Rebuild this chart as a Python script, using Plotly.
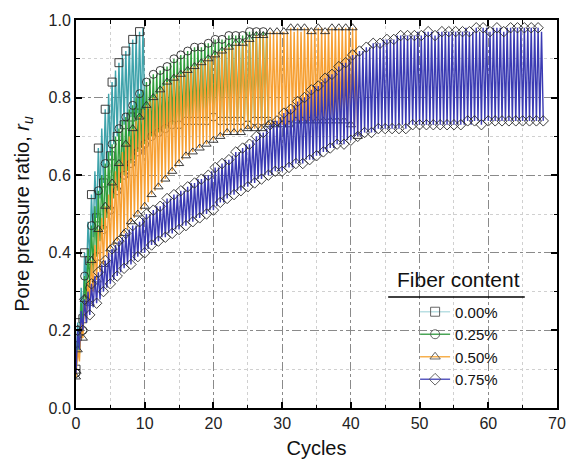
import plotly.graph_objects as go

# ---------------- data ----------------
series_names = ["0.00%", "0.25%", "0.50%", "0.75%"]
series_colors = ["#3fa3ab", "#2f9e3c", "#f7a033", "#3a3ab3"]
legend_colors = ["#b9dfe3", "#4aa556", "#f7b04d", "#5a5ac0"]
series_symbols = ["square-open", "circle-open", "triangle-up-open", "diamond-open"]

# start value at cycle 0
start_0 = 0.10
start_25 = 0.09
start_50 = 0.08
start_75 = 0.09

# peaks (at cycle k+0.25, k+0.75 ...) and troughs (at k+0.5, k+1.0 ...) per half cycle
peaks_0 = [0.22, 0.31, 0.40, 0.48, 0.55, 0.61, 0.67, 0.72, 0.77, 0.81,
           0.84, 0.87, 0.89, 0.91, 0.92, 0.94, 0.95, 0.96, 0.97, 0.98]
troughs_0 = [0.15, 0.23, 0.31, 0.38, 0.44, 0.49, 0.54, 0.58, 0.62, 0.65,
             0.68, 0.70, 0.72, 0.73, 0.74, 0.75, 0.75, 0.76, 0.76, 0.76]

peaks_25 = [0.18, 0.27, 0.34, 0.41, 0.47, 0.52, 0.56, 0.60, 0.63, 0.66,
            0.68, 0.70, 0.72, 0.74, 0.75, 0.77, 0.78, 0.80, 0.81, 0.82,
            0.84, 0.85, 0.86, 0.86, 0.87, 0.88, 0.88, 0.89, 0.90, 0.90,
            0.91, 0.91, 0.92, 0.92, 0.93, 0.93, 0.93, 0.94, 0.94, 0.94,
            0.95, 0.95, 0.95, 0.95, 0.96, 0.96, 0.96, 0.96, 0.96, 0.97,
            0.97, 0.97, 0.97, 0.97, 0.97, 0.97]
troughs_25 = [0.14, 0.20, 0.26, 0.31, 0.35, 0.39, 0.43, 0.46, 0.49, 0.51,
              0.54, 0.56, 0.58, 0.60, 0.61, 0.63, 0.64, 0.66, 0.67, 0.68,
              0.69, 0.70, 0.70, 0.71, 0.71, 0.72, 0.72, 0.73, 0.73, 0.73,
              0.73, 0.74, 0.74, 0.74, 0.74, 0.74, 0.74, 0.74, 0.75, 0.75,
              0.75, 0.74, 0.74, 0.74, 0.74, 0.74, 0.74, 0.74, 0.74, 0.73,
              0.73, 0.74, 0.74, 0.74, 0.74, 0.74]

peaks_50 = [0.15, 0.22, 0.28, 0.33, 0.38, 0.42, 0.46, 0.49, 0.52, 0.55,
            0.58, 0.61, 0.63, 0.66, 0.68, 0.70, 0.72, 0.74, 0.75, 0.77,
            0.78, 0.79, 0.80, 0.81, 0.82, 0.83, 0.84, 0.84, 0.85, 0.86,
            0.86, 0.87, 0.87, 0.88, 0.88, 0.89, 0.89, 0.90, 0.90, 0.91,
            0.91, 0.92, 0.92, 0.93, 0.93, 0.93, 0.94, 0.94, 0.94, 0.95,
            0.95, 0.95, 0.96, 0.96, 0.96, 0.96, 0.97, 0.97, 0.97, 0.97,
            0.97, 0.97, 0.98, 0.97, 0.98, 0.97, 0.98, 0.98, 0.97, 0.98,
            0.98, 0.98, 0.97, 0.98, 0.98, 0.98, 0.98, 0.98, 0.98, 0.98,
            0.98, 0.98]
troughs_50 = [0.12, 0.18, 0.23, 0.27, 0.30, 0.33, 0.35, 0.37, 0.39, 0.41,
              0.42, 0.43, 0.44, 0.45, 0.46, 0.48, 0.49, 0.50, 0.51, 0.52,
              0.53, 0.55, 0.56, 0.57, 0.58, 0.59, 0.60, 0.61, 0.62, 0.63,
              0.64, 0.65, 0.65, 0.66, 0.67, 0.67, 0.68, 0.68, 0.69, 0.69,
              0.70, 0.70, 0.70, 0.71, 0.71, 0.71, 0.71, 0.71, 0.72, 0.72,
              0.72, 0.72, 0.72, 0.72, 0.73, 0.73, 0.73, 0.73, 0.73, 0.73,
              0.73, 0.73, 0.74, 0.74, 0.74, 0.74, 0.74, 0.74, 0.74, 0.74,
              0.74, 0.74, 0.74, 0.74, 0.74, 0.74, 0.74, 0.74, 0.74, 0.73,
              0.72, 0.70]

peaks_75 = [0.20, 0.25, 0.28, 0.30, 0.32, 0.34, 0.35, 0.37, 0.38, 0.40,
            0.41, 0.42, 0.43, 0.44, 0.45, 0.46, 0.47, 0.47, 0.48, 0.49,
            0.50, 0.50, 0.51, 0.52, 0.52, 0.53, 0.54, 0.54, 0.55, 0.55,
            0.56, 0.56, 0.57, 0.58, 0.58, 0.59, 0.59, 0.60, 0.60, 0.61,
            0.62, 0.62, 0.63, 0.64, 0.64, 0.65, 0.66, 0.66, 0.67, 0.68,
            0.68, 0.69, 0.70, 0.71, 0.71, 0.72, 0.73, 0.74, 0.74, 0.75,
            0.76, 0.77, 0.77, 0.78, 0.79, 0.80, 0.80, 0.81, 0.82, 0.83,
            0.83, 0.84, 0.85, 0.86, 0.86, 0.87, 0.88, 0.89, 0.89, 0.90,
            0.91, 0.91, 0.92, 0.92, 0.93, 0.93, 0.94, 0.94, 0.94, 0.95,
            0.95, 0.95, 0.95, 0.96, 0.96, 0.96, 0.96, 0.96, 0.96, 0.97,
            0.96, 0.97, 0.97, 0.97, 0.96, 0.97, 0.97, 0.97, 0.97, 0.97,
            0.97, 0.97, 0.97, 0.98, 0.97, 0.97, 0.98, 0.97, 0.98, 0.98,
            0.97, 0.98, 0.98, 0.98, 0.97, 0.98, 0.98, 0.98, 0.98, 0.98,
            0.98, 0.98, 0.98, 0.98, 0.98, 0.97]
troughs_75 = [0.15, 0.20, 0.22, 0.24, 0.26, 0.27, 0.28, 0.30, 0.31, 0.32,
              0.33, 0.34, 0.35, 0.36, 0.37, 0.37, 0.38, 0.39, 0.40, 0.40,
              0.41, 0.42, 0.42, 0.43, 0.44, 0.44, 0.45, 0.45, 0.46, 0.46,
              0.47, 0.47, 0.48, 0.48, 0.49, 0.49, 0.50, 0.50, 0.51, 0.51,
              0.52, 0.53, 0.53, 0.54, 0.55, 0.55, 0.56, 0.56, 0.57, 0.57,
              0.58, 0.58, 0.59, 0.59, 0.60, 0.60, 0.60, 0.61, 0.61, 0.61,
              0.62, 0.62, 0.62, 0.63, 0.63, 0.63, 0.64, 0.64, 0.64, 0.65,
              0.65, 0.66, 0.66, 0.67, 0.67, 0.68, 0.68, 0.68, 0.69, 0.69,
              0.70, 0.70, 0.70, 0.71, 0.71, 0.71, 0.71, 0.72, 0.72, 0.72,
              0.72, 0.72, 0.72, 0.72, 0.73, 0.72, 0.73, 0.73, 0.73, 0.73,
              0.73, 0.73, 0.73, 0.73, 0.73, 0.73, 0.73, 0.73, 0.73, 0.73,
              0.73, 0.73, 0.73, 0.74, 0.73, 0.74, 0.74, 0.73, 0.74, 0.74,
              0.74, 0.74, 0.74, 0.74, 0.74, 0.74, 0.74, 0.74, 0.74, 0.74,
              0.74, 0.74, 0.74, 0.74, 0.74, 0.74]

starts = [start_0, start_25, start_50, start_75]
peaks_all = [peaks_0, peaks_25, peaks_50, peaks_75]
troughs_all = [troughs_0, troughs_25, troughs_50, troughs_75]

x_tick_vals = [0, 10, 20, 30, 40, 50, 60, 70]
y_tick_vals = [0.0, 0.2, 0.4, 0.6, 0.8, 1.0]
y_tick_text = ["0.0", "0.2", "0.4", "0.6", "0.8", "1.0"]

# ---------------- figure ----------------
FONT = "Liberation Sans, Arial, sans-serif"
fig = go.Figure()

for name, col, lcol, sym, s0, pk, tr in zip(series_names, series_colors, legend_colors,
                                            series_symbols, starts, peaks_all, troughs_all):
    xs, ys = [0.0], [s0]
    for i, (p, t) in enumerate(zip(pk, tr)):
        xs += [0.5 * i + 0.25, 0.5 * i + 0.5]
        ys += [p, t]
    fig.add_trace(go.Scatter(x=xs, y=ys, mode="lines", line=dict(color=col, width=1.4),
                             showlegend=False, hoverinfo="skip"))
    # markers at every other peak / trough
    mx, my = [0.0], [s0]
    for i in range(0, len(pk), 2):
        mx.append(0.5 * i + 0.25); my.append(pk[i])
    for i in range(1, len(tr), 2):
        mx.append(0.5 * i + 0.5); my.append(tr[i])
    fig.add_trace(go.Scatter(x=mx, y=my, mode="markers",
                             marker=dict(symbol=sym, size=8, color="#2a2a2a",
                                         line=dict(width=0.9, color="#2a2a2a")),
                             showlegend=False, hoverinfo="skip"))

for name, lcol, sym in zip(series_names, legend_colors, series_symbols):
    fig.add_trace(go.Scatter(x=[None], y=[None], mode="lines+markers", name=name,
                             line=dict(color=lcol, width=1.3),
                             marker=dict(symbol=sym, size=9, color="#555555",
                                         line=dict(width=0.9, color="#555555"))))

axis_common = dict(
    showline=True, linewidth=2, linecolor="black", mirror="allticks",
    ticks="inside", ticklen=6, tickwidth=1.5, tickcolor="black",
    showgrid=True, gridcolor="#8a8a8a", gridwidth=1, griddash="dashdot",
    zeroline=False, automargin=False,
    tickfont=dict(family=FONT, size=16, color="#222222"),
)

fig.update_xaxes(range=[0, 70], tickvals=x_tick_vals,
                 minor=dict(dtick=5, tick0=0, ticks="inside", ticklen=3.5, tickwidth=1.2,
                            tickcolor="black", showgrid=True, gridcolor="#d0d0d0",
                            griddash="dot", gridwidth=1),
                 title=dict(text="Cycles", font=dict(family=FONT, size=20, color="#111111"),
                            standoff=10),
                 **axis_common)
fig.update_yaxes(range=[0, 1.0], tickvals=y_tick_vals, ticktext=y_tick_text,
                 minor=dict(dtick=0.1, tick0=0, ticks="inside", ticklen=3.5, tickwidth=1.2,
                            tickcolor="black", showgrid=True, gridcolor="#d0d0d0",
                            griddash="dot", gridwidth=1),
                 title=dict(text="Pore pressure ratio, <i>r<sub>u</sub></i>",
                            font=dict(family=FONT, size=20, color="#111111"), standoff=14),
                 **axis_common)

fig.add_annotation(text="Fiber content", xref="paper", yref="paper", x=0.796, y=0.33,
                   xanchor="center", yanchor="middle",
                   showarrow=False, font=dict(family=FONT, size=21, color="#111111"))
fig.add_shape(type="line", xref="paper", yref="paper", x0=0.649, x1=0.933, y0=0.286, y1=0.286,
              line=dict(color="black", width=1.5))

fig.update_layout(
    width=567, height=461,
    margin=dict(l=76, r=10, t=20, b=53),
    plot_bgcolor="white", paper_bgcolor="white",
    legend=dict(x=0.705, y=0.29, xanchor="left", yanchor="top",
                bgcolor="rgba(0,0,0,0)", font=dict(family=FONT, size=15, color="#111111"),
                tracegroupgap=0, itemwidth=30),
)

fig.write_html("out.html")
